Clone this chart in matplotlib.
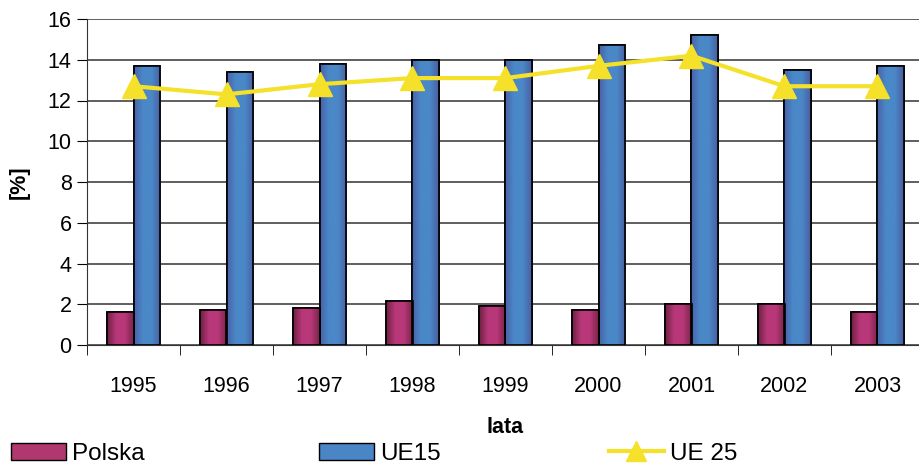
import numpy as np
import matplotlib.pyplot as plt
from matplotlib.colors import LinearSegmentedColormap
from matplotlib.patches import Patch
from matplotlib.lines import Line2D

plt.rcParams['font.family'] = ['Liberation Sans', 'DejaVu Sans']

# dane
years = ['1995', '1996', '1997', '1998', '1999', '2000', '2001', '2002', '2003']
polska = [1.6, 1.7, 1.8, 2.15, 1.9, 1.7, 2.0, 2.0, 1.6]
ue15 = [13.7, 13.4, 13.8, 14.0, 14.0, 14.7, 15.2, 13.5, 13.7]
ue25 = [12.7, 12.3, 12.8, 13.1, 13.1, 13.7, 14.2, 12.7, 12.7]

fig = plt.figure(figsize=(9.19, 4.66), dpi=100)
ax = fig.add_axes([87 / 919, 121 / 466, 837 / 919, 326 / 466])

x = np.arange(len(years))
w = 0.29
fs = 15.5

cm_pl = LinearSegmentedColormap.from_list('pl', ['#6e2040', '#b8387a', '#b8387a', '#7a2448'])
cm_ue = LinearSegmentedColormap.from_list('ue', ['#4a62a8', '#4a88c8', '#4a88c8', '#4a5ea0'])
grad = np.linspace(0, 1, 64).reshape(1, -1)

b1 = ax.bar(x - w / 2, polska, w, color='#b0386e', edgecolor='black', linewidth=1.2, zorder=3)
b2 = ax.bar(x + w / 2, ue15, w, color='#4a85c5', edgecolor='black', linewidth=1.2, zorder=3)

# gradient w slupkach
for bars, cm in ((b1, cm_pl), (b2, cm_ue)):
    for p in bars:
        x0, y0 = p.get_x(), p.get_y()
        im = ax.imshow(grad, extent=(x0, x0 + p.get_width(), y0, y0 + p.get_height()),
                       cmap=cm, aspect='auto', zorder=3.5, interpolation='bicubic')
        im.set_clip_path(p)
        ax.add_patch(plt.Rectangle((x0, y0), p.get_width(), p.get_height(), fill=False,
                                   edgecolor='black', linewidth=1.2, zorder=4))

ax.plot(x, ue25, color='#f5e12a', lw=3, marker='^', markersize=17, zorder=5)

ax.set_xlim(-0.5, 8.5)
ax.set_ylim(0, 16)
ax.set_yticks(range(0, 17, 2))
ax.set_xticks(x)
ax.set_xticklabels(years)
ax.set_xticks(np.arange(-0.5, 9, 1), minor=True)
ax.tick_params(axis='x', which='major', length=0, pad=22, labelsize=fs)
ax.tick_params(axis='x', which='minor', length=7, direction='out')
ax.tick_params(axis='y', length=7, direction='out', labelsize=fs, pad=4)
ax.yaxis.grid(True, color='#333333', lw=1.1, zorder=0)
ax.set_axisbelow(True)
for s in ('top', 'right'):
    ax.spines[s].set_visible(False)
ax.spines['left'].set_color('#333333')
ax.spines['bottom'].set_color('#333333')

ax.set_xlabel('lata', fontsize=fs, fontweight='bold', labelpad=15)
ax.set_ylabel('[%]', fontsize=fs, fontweight='bold', labelpad=13)

# legenda - trzy osobne elementy
handles = [
    Patch(facecolor='#b0386e', edgecolor='black', label='Polska'),
    Patch(facecolor='#4a85c5', edgecolor='black', label='UE15'),
    Line2D([0], [0], color='#f5e12a', lw=3, marker='^', markersize=14, label='UE 25'),
]
for h, xpos in zip(handles, (6, 314, 604)):
    fig.legend(handles=[h], loc='lower left', bbox_to_anchor=(xpos / 919, -0.008),
               frameon=False, fontsize=17.5, handlelength=2.25,
               handletextpad=0.25, borderaxespad=0, borderpad=0.2)

fig.savefig('out.png', dpi=100)
